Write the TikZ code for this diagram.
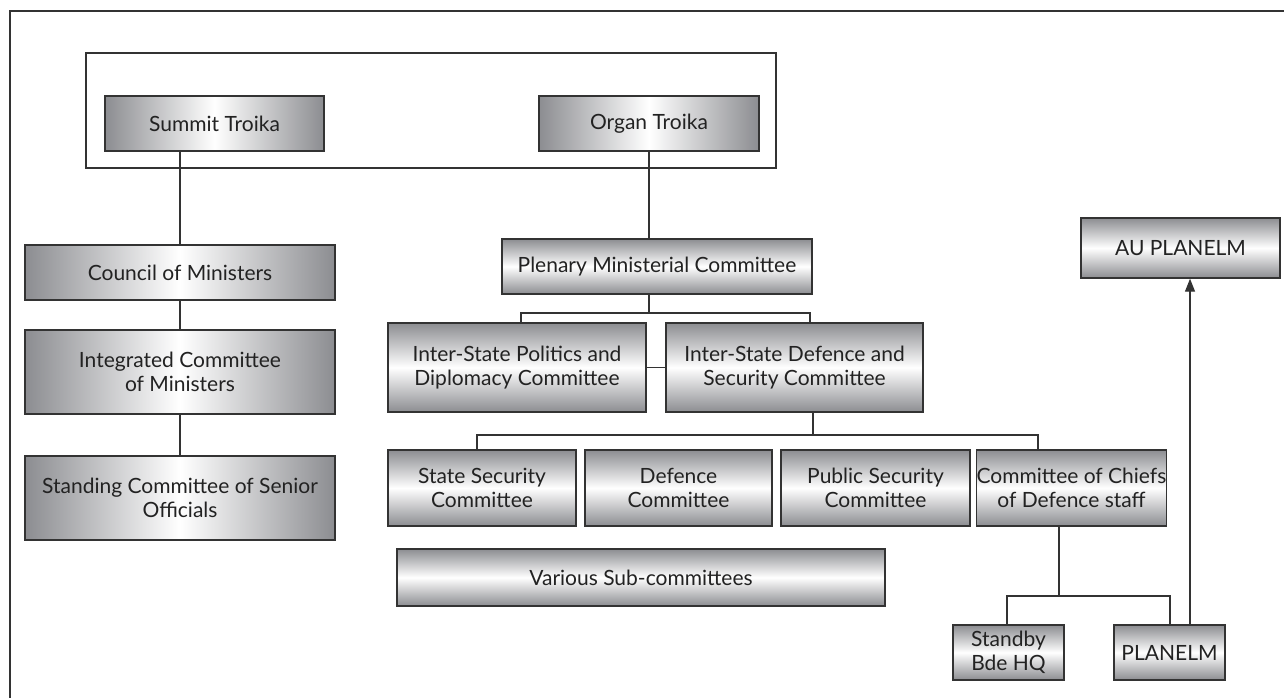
\documentclass[tikz,border=0pt]{standalone}
\usepackage{fontspec}
\setmainfont{Lato}
\usetikzlibrary{arrows.meta}
\definecolor{edgec}{HTML}{333333}
\definecolor{shadec}{HTML}{8C8D91}
\definecolor{textc}{HTML}{222222}
\tikzset{
  box/.style={draw=edgec, line width=1.4pt, text=textc, align=center, inner sep=0pt,
    font=\fontsize{21}{24}\selectfont},
  hbox/.style={box, left color=shadec, right color=shadec, middle color=white},
  vbox/.style={box, top color=shadec, bottom color=shadec, middle color=white},
  conn/.style={draw=edgec, line width=1.3pt},
  frame/.style={draw=edgec, line width=1.2pt}
}
\begin{document}
\begin{tikzpicture}[x=1pt,y=-1pt]
\useasboundingbox (0,0) rectangle (1284,698);
% outer frame (only top and left edges visible)
\draw[frame] (1290,11) -- (10,11) -- (10,705);
% troika frame
\node[frame, minimum width=690pt, minimum height=115pt, inner sep=0pt] (troika) at (431,110.5) {};
% nodes
\node[hbox, minimum width=219pt, minimum height=55pt] (summit) at (214.5,123.5) {Summit Troika};
\node[hbox, minimum width=220pt, minimum height=55pt] (organ) at (649,123.5) {Organ Troika};
\node[hbox, minimum width=310pt, minimum height=55pt] (council) at (180,272.5) {Council of Ministers};
\node[hbox, minimum width=310pt, minimum height=84pt] (integ) at (180,372) {Integrated Committee\\of Ministers};
\node[hbox, minimum width=310pt, minimum height=84pt] (standing) at (180,498) {Standing Committee of Senior\\Officials};
\node[vbox, minimum width=310pt, minimum height=55pt] (plenary) at (657,266.5) {Plenary Ministerial Committee};
\node[vbox, minimum width=258pt, minimum height=89pt] (ispd) at (517,367.5) {Inter-State Politics and\\Diplomacy Committee};
\node[vbox, minimum width=257pt, minimum height=89pt] (isds) at (794.5,367.5) {Inter-State Defence and\\Security Committee};
\node[vbox, minimum width=188pt, minimum height=76pt] (ss) at (482,488) {State Security\\Committee};
\node[vbox, minimum width=187pt, minimum height=76pt] (def) at (678.5,488) {Defence\\Committee};
\node[vbox, minimum width=189pt, minimum height=76pt] (ps) at (875.5,488) {Public Security\\Committee};
\node[vbox, minimum width=187pt, minimum height=76pt] (coc) at (1071.5,488) {Committee of Chiefs\\of Defence staff};
\node[vbox, minimum width=488pt, minimum height=57pt] (various) at (641,577.5) {Various Sub-committees};
\node[vbox, minimum width=111pt, minimum height=55pt] (standby) at (1008.5,652.5) {Standby\\Bde HQ};
\node[vbox, minimum width=111pt, minimum height=55pt] (planelm) at (1169.5,652.5) {PLANELM};
\node[vbox, minimum width=199pt, minimum height=60pt] (au) at (1180.5,248) {AU PLANELM};
% bus coordinates
\coordinate (b1) at (649,313);
\coordinate (b2) at (813,435);
\coordinate (b3) at (1059,596);
% connectors
\draw[conn] (summit.south -| council.north) -- (council.north);
\draw[conn] (council.south) -- (integ.north);
\draw[conn] (integ.south) -- (standing.north);
\draw[conn] (organ.south) -- (organ.south |- plenary.north);
\draw[conn] (plenary.south -| b1) -- (b1);
\draw[conn] (ispd.north -| 521,0) |- (b1) -| (isds.north -| 810,0);
\draw[conn] (ispd.east) -- (isds.west);
\draw[conn] (isds.south -| b2) -- (b2);
\draw[conn] (ss.north -| 477,0) |- (b2) -| (coc.north -| 1038,0);
\draw[conn] (def.north -| 679,0) -- (def.north -| 679,0 |- b2);
\draw[conn] (ps.north -| 851,0) -- (ps.north -| 851,0 |- b2);
\draw[conn] (coc.south -| b3) -- (b3);
\draw[conn] (standby.north -| 1007,0) |- (b3) -| (planelm.north -| 1170,0);
\draw[conn, -{Triangle[length=13pt,width=10pt]}] (planelm.north -| 1190,0) -- (au.south -| 1190,0);
\end{tikzpicture}
\end{document}
